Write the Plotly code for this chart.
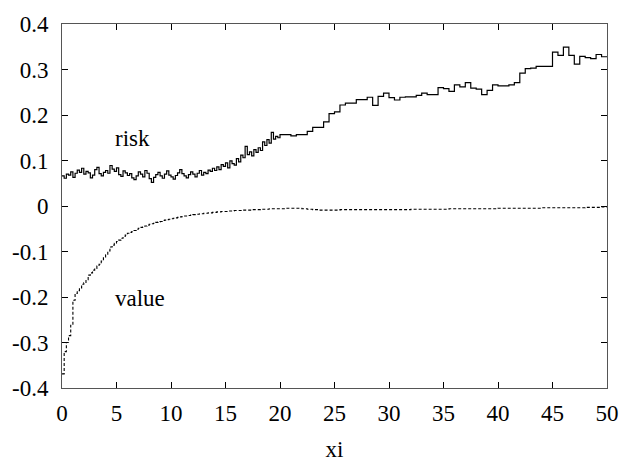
import numpy as np
import plotly.graph_objects as go

# bin starts: 0.2-wide bins on [0,20), 0.5-wide bins on [20,50)
xi_fine = np.round(np.arange(0, 20, 0.2), 2).tolist()
xi_coarse = np.round(np.arange(20, 50, 0.5), 2).tolist()
xi_end = 50

risk_fine = [
    0.066, 0.061, 0.070, 0.068, 0.075, 0.063, 0.072, 0.079, 0.074, 0.083,
    0.070, 0.076, 0.073, 0.062, 0.068, 0.080, 0.085, 0.071, 0.066, 0.074,
    0.078, 0.072, 0.089, 0.081, 0.076, 0.084, 0.069, 0.065, 0.077, 0.073,
    0.067, 0.071, 0.062, 0.058, 0.066, 0.075, 0.070, 0.064, 0.078, 0.072,
    0.060, 0.052, 0.063, 0.069, 0.074, 0.066, 0.061, 0.070, 0.077, 0.068,
    0.064, 0.059, 0.067, 0.073, 0.080, 0.071, 0.066, 0.062, 0.069, 0.075,
    0.070, 0.064, 0.072, 0.078, 0.068, 0.074, 0.071, 0.079, 0.076, 0.083,
    0.078, 0.086, 0.080, 0.091, 0.087, 0.095, 0.084, 0.099, 0.093, 0.090,
    0.104, 0.097, 0.112, 0.106, 0.131, 0.113, 0.119, 0.110, 0.124, 0.118,
    0.128, 0.122, 0.141, 0.133, 0.146, 0.138, 0.162, 0.147, 0.153, 0.150,
]
risk_coarse = [
    0.157, 0.157, 0.154, 0.157, 0.157, 0.164, 0.173, 0.173, 0.185, 0.203,
    0.207, 0.222, 0.226, 0.226, 0.234, 0.234, 0.239, 0.221, 0.241, 0.248,
    0.238, 0.233, 0.239, 0.240, 0.240, 0.243, 0.248, 0.245, 0.245, 0.260,
    0.258, 0.252, 0.266, 0.262, 0.271, 0.259, 0.257, 0.245, 0.254, 0.266,
    0.264, 0.264, 0.266, 0.271, 0.292, 0.302, 0.303, 0.307, 0.307, 0.307,
    0.338, 0.331, 0.349, 0.331, 0.312, 0.329, 0.326, 0.324, 0.333, 0.328,
]
value_fine = [
    -0.369, -0.320, -0.300, -0.285, -0.262, -0.207, -0.192, -0.186, -0.180, -0.172,
    -0.169, -0.162, -0.152, -0.147, -0.141, -0.137, -0.132, -0.128, -0.121, -0.114,
    -0.107, -0.099, -0.090, -0.086, -0.082, -0.078, -0.075, -0.071, -0.067, -0.064,
    -0.060, -0.058, -0.056, -0.054, -0.051, -0.049, -0.047, -0.046, -0.044, -0.042,
    -0.040, -0.039, -0.038, -0.036, -0.035, -0.034, -0.032, -0.031, -0.030, -0.029,
    -0.028, -0.027, -0.026, -0.025, -0.024, -0.023, -0.022, -0.022, -0.021, -0.020,
    -0.019, -0.019, -0.018, -0.017, -0.017, -0.016, -0.016, -0.015, -0.015, -0.014,
    -0.014, -0.013, -0.013, -0.012, -0.012, -0.012, -0.011, -0.011, -0.011, -0.010,
    -0.010, -0.010, -0.010, -0.009, -0.009, -0.009, -0.009, -0.008, -0.008, -0.008,
    -0.008, -0.007, -0.007, -0.007, -0.007, -0.006, -0.006, -0.006, -0.006, -0.006,
]
value_coarse = [
    -0.006, -0.005, -0.005, -0.005, -0.006, -0.007, -0.008, -0.009, -0.009, -0.009,
    -0.009, -0.008, -0.008, -0.008, -0.008, -0.008, -0.008, -0.008, -0.008, -0.008,
    -0.008, -0.008, -0.008, -0.008, -0.007, -0.007, -0.007, -0.007, -0.007, -0.007,
    -0.007, -0.006, -0.006, -0.006, -0.006, -0.006, -0.006, -0.006, -0.006, -0.006,
    -0.005, -0.005, -0.005, -0.005, -0.005, -0.005, -0.005, -0.005, -0.004, -0.004,
    -0.004, -0.004, -0.004, -0.004, -0.004, -0.004, -0.003, -0.003, -0.003, -0.002,
]

x_ticks = [0, 5, 10, 15, 20, 25, 30, 35, 40, 45, 50]
y_ticks = [-0.4, -0.3, -0.2, -0.1, 0, 0.1, 0.2, 0.3, 0.4]
y_tick_text = ["-0.4", "-0.3", "-0.2", "-0.1", "0", "0.1", "0.2", "0.3", "0.4"]

labels = [("risk", 6.5, 0.148), ("value", 7.2, -0.203)]

x_steps = xi_fine + xi_coarse + [xi_end]
risk_steps = risk_fine + risk_coarse
risk_steps = risk_steps + [risk_steps[-1]]
value_steps = value_fine + value_coarse
value_steps = value_steps + [value_steps[-1]]

FONT = "Liberation Serif"
FS = 23

fig = go.Figure()
fig.add_trace(go.Scatter(x=x_steps, y=risk_steps, mode="lines", line_shape="hv",
                         line=dict(color="black", width=1.2), showlegend=False,
                         hoverinfo="skip"))
fig.add_trace(go.Scatter(x=x_steps, y=value_steps, mode="lines", line_shape="hv",
                         line=dict(color="black", width=1.1, dash="3px,2px"), showlegend=False,
                         hoverinfo="skip"))

for text, x, y in labels:
    fig.add_annotation(x=x, y=y, text=text, showarrow=False,
                       font=dict(family=FONT, size=FS, color="black"))

axis_common = dict(showline=True, linecolor="#555555", linewidth=1, mirror="ticks",
                   ticks="inside", ticklen=6, tickcolor="black", tickwidth=1,
                   showgrid=False, zeroline=False,
                   tickfont=dict(family=FONT, size=FS, color="black"))

fig.update_layout(
    width=631, height=470,
    margin=dict(l=60, r=14, t=13, b=70),
    paper_bgcolor="white", plot_bgcolor="white",
    font=dict(family=FONT, size=FS, color="black"),
    xaxis=dict(range=[0, 50], tickvals=x_ticks, ticklabelstandoff=4,
               title=dict(text="xi", standoff=16,
                          font=dict(family=FONT, size=FS, color="black")), **axis_common),
    yaxis=dict(range=[-0.4, 0.4], tickvals=y_ticks, ticktext=y_tick_text,
               ticklabelstandoff=8, **axis_common),
)

fig.write_html("out.html", config={"displayModeBar": False},
               post_script="document.body.style.margin='0px';")
